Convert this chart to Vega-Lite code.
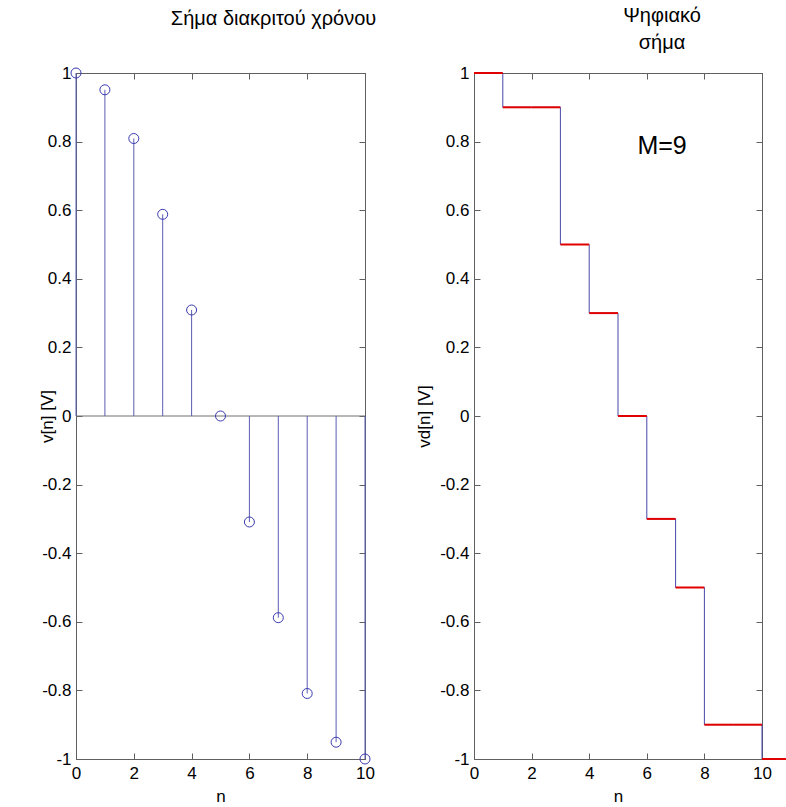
{
  "$schema": "https://vega.github.io/schema/vega-lite/v6.json",
  "autosize": {"type": "pad"},
  "padding": {"left": 37, "top": 5, "right": 0, "bottom": 0},
  "background": "white",
  "spacing": 109,
  "bounds": "flush",
  "config": {
    "view": {"stroke": "#606060", "strokeWidth": 1},
    "font": "Liberation Sans",
    "title": {"font": "Liberation Sans", "fontSize": 20, "fontWeight": "normal", "color": "#000", "lineHeight": 27},
    "axis": {
      "domainColor": "#606060", "tickColor": "#606060", "tickSize": -6, "grid": false,
      "labelFont": "Liberation Sans", "labelFontSize": 17, "labelColor": "#000",
      "labelFlush": false, "labelOverlap": false, "labelBound": false,
      "titleFont": "Liberation Sans", "titleFontSize": 17, "titleFontWeight": "normal", "titleColor": "#000"
    }
  },
  "hconcat": [
    {
      "width": 289,
      "height": 686,
      "title": {"text": "Σήμα διακριτού χρόνου", "dx": 53, "offset": 35},
      "data": {"values": [
        {"n": 0, "v": 1}, {"n": 1, "v": 0.951}, {"n": 2, "v": 0.809}, {"n": 3, "v": 0.588},
        {"n": 4, "v": 0.309}, {"n": 5, "v": 0}, {"n": 6, "v": -0.309}, {"n": 7, "v": -0.588},
        {"n": 8, "v": -0.809}, {"n": 9, "v": -0.951}, {"n": 10, "v": -1}
      ]},
      "layer": [
        {
          "data": {"values": [{}]},
          "mark": {"type": "rule", "color": "#707070", "strokeWidth": 1},
          "encoding": {"y": {"datum": 0, "type": "quantitative", "scale": {"domain": [-1, 1], "nice": false}, "axis": null}}
        },
        {
          "mark": {"type": "rule", "color": "#5c5cb4", "strokeWidth": 1},
          "encoding": {
            "x": {"field": "n", "type": "quantitative", "scale": {"domain": [0, 10], "nice": false},
                  "axis": {"orient": "bottom", "values": [0, 2, 4, 6, 8, 10], "title": "n", "labelPadding": 12, "titlePadding": 7, "labelExpr": "'' + datum.value"}},
            "y": {"field": "v", "type": "quantitative", "scale": {"domain": [-1, 1], "nice": false},
                  "axis": {"orient": "left", "values": [-1, -0.8, -0.6, -0.4, -0.2, 0, 0.2, 0.4, 0.6, 0.8, 1], "title": "v[n] [V]", "labelPadding": 11, "labelExpr": "'' + datum.value", "titleX": -29, "titleBaseline": "middle"}},
            "y2": {"datum": 0}
          }
        },
        {
          "mark": {"type": "point", "shape": "circle", "filled": false, "size": 100, "color": "#3a3ab0", "strokeWidth": 1, "opacity": 1},
          "encoding": {
            "x": {"field": "n", "type": "quantitative", "axis": {"orient": "top", "values": [0, 2, 4, 6, 8, 10], "labels": false, "title": null}},
            "y": {"field": "v", "type": "quantitative", "axis": {"orient": "right", "values": [-1, -0.8, -0.6, -0.4, -0.2, 0, 0.2, 0.4, 0.6, 0.8, 1], "labels": false, "title": null}}
          }
        }
      ]
    },
    {
      "width": 288,
      "height": 686,
      "title": {"text": ["Ψηφιακό", "σήμα"], "dx": 44, "offset": 11},
      "data": {"values": [
        {"n": 0, "n2": 1, "vd": 1}, {"n": 1, "n2": 2, "vd": 0.9}, {"n": 2, "n2": 3, "vd": 0.9},
        {"n": 3, "n2": 4, "vd": 0.5}, {"n": 4, "n2": 5, "vd": 0.3}, {"n": 5, "n2": 6, "vd": 0},
        {"n": 6, "n2": 7, "vd": -0.3}, {"n": 7, "n2": 8, "vd": -0.5}, {"n": 8, "n2": 9, "vd": -0.9},
        {"n": 9, "n2": 10, "vd": -0.9}, {"n": 10, "n2": 11, "vd": -1}
      ]},
      "layer": [
        {
          "mark": {"type": "line", "interpolate": "step-after", "color": "#4848a8", "strokeWidth": 1},
          "encoding": {
            "x": {"field": "n", "type": "quantitative", "scale": {"domain": [0, 10], "nice": false},
                  "axis": {"orient": "bottom", "values": [0, 2, 4, 6, 8, 10], "title": "n", "labelPadding": 12, "titlePadding": 7, "labelExpr": "'' + datum.value"}},
            "y": {"field": "vd", "type": "quantitative", "scale": {"domain": [-1, 1], "nice": false},
                  "axis": {"orient": "left", "values": [-1, -0.8, -0.6, -0.4, -0.2, 0, 0.2, 0.4, 0.6, 0.8, 1], "title": "vd[n] [V]", "labelPadding": 11, "labelExpr": "'' + datum.value", "titleX": -50, "titleBaseline": "middle"}}
          }
        },
        {
          "mark": {"type": "rule", "color": "#e00000", "strokeWidth": 2},
          "encoding": {
            "x": {"field": "n", "type": "quantitative", "axis": {"orient": "top", "values": [0, 2, 4, 6, 8, 10], "labels": false, "title": null}},
            "x2": {"field": "n2"},
            "y": {"field": "vd", "type": "quantitative", "axis": {"orient": "right", "values": [-1, -0.8, -0.6, -0.4, -0.2, 0, 0.2, 0.4, 0.6, 0.8, 1], "labels": false, "title": null}}
          }
        },
        {
          "data": {"values": [{}]},
          "mark": {"type": "text", "text": "M=9", "fontSize": 25, "font": "Liberation Sans", "color": "#000", "align": "center", "baseline": "middle"},
          "encoding": {
            "x": {"datum": 6.53, "type": "quantitative", "axis": null},
            "y": {"datum": 0.787, "type": "quantitative", "axis": null}
          }
        }
      ]
    }
  ]
}
